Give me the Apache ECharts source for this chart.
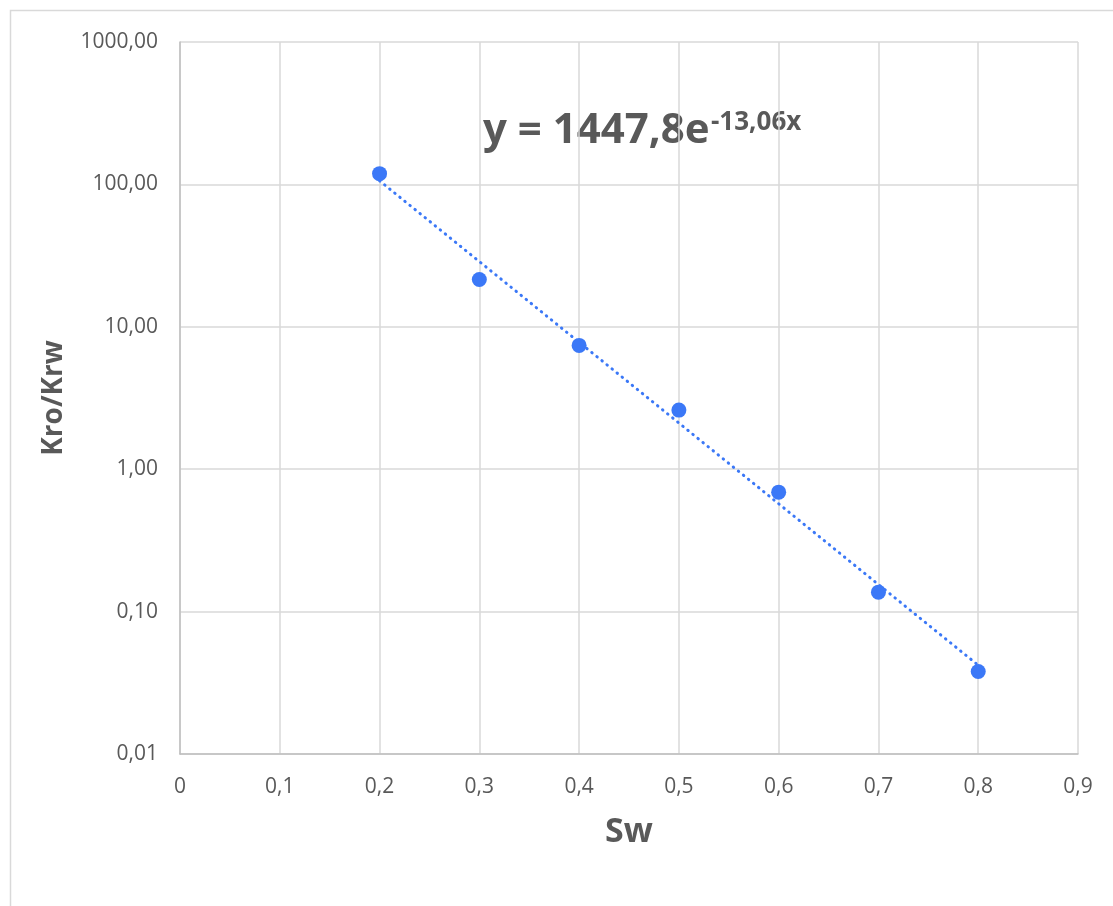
<!DOCTYPE html>
<html>
<head>
<meta charset="utf-8">
<script src="https://cdn.jsdelivr.net/npm/echarts@6/dist/echarts.min.js"></script>
<style>
  html, body { margin: 0; padding: 0; background: #fff; }
  #chart { width: 1113px; height: 906px; }
</style>
</head>
<body>
<div id="chart"></div>
<script>
// measured points (Sw vs Kro/Krw)
const sw = [0.2, 0.3, 0.4, 0.5, 0.6, 0.7, 0.8]
const kroKrw = [119, 21.5, 7.4, 2.6, 0.69, 0.137, 0.038]

// exponential trendline, end points
const trendSw = [0.2, 0.8]
const trendVal = [106, 0.042]

const eqMain = 'y = 1447,8e'
const eqExp = '-13,06x'

const textColor = '#595959'
const gridColor = '#d9d9d9'
const axisColor = '#bfbfbf'
const blue = '#3b78f7'
const font = 'Open Sans'

const chart = echarts.init(document.getElementById('chart'))

const option = {
  animation: false,
  textStyle: { fontFamily: font },
  grid: {
    left: 180,
    right: 35,
    top: 42,
    bottom: 152
  },
  xAxis: {
    type: 'value',
    min: 0,
    max: 0.9,
    interval: 0.1,
    name: 'Sw',
    nameLocation: 'middle',
    nameGap: 61,
    nameTextStyle: { fontSize: 34, fontWeight: 'bold', color: textColor, fontFamily: font },
    axisLine: { show: true, lineStyle: { color: axisColor, width: 1.5 } },
    axisTick: { show: false },
    axisLabel: {
      color: textColor,
      fontSize: 21,
      margin: 23,
      formatter: v => String(Math.round(v * 10) / 10).replace('.', ',')
    },
    splitLine: { show: true, lineStyle: { color: gridColor, width: 1.5 } }
  },
  yAxis: {
    type: 'log',
    logBase: 10,
    min: 0.01,
    max: 1000,
    name: 'Kro/Krw',
    nameLocation: 'middle',
    nameRotate: 90,
    nameGap: 112,
    nameTextStyle: { fontSize: 28, fontWeight: 'bold', color: textColor, fontFamily: font },
    axisLine: { show: true, lineStyle: { color: axisColor, width: 1.5 } },
    axisTick: { show: false },
    axisLabel: {
      color: textColor,
      fontSize: 21,
      margin: 22,
      formatter: v => Number(v).toFixed(2).replace('.', ',')
    },
    splitLine: { show: true, lineStyle: { color: gridColor, width: 1.5 } }
  },
  series: [
    {
      name: 'Trend',
      type: 'line',
      data: trendSw.map((x, i) => [x, trendVal[i]]),
      showSymbol: false,
      symbol: 'none',
      lineStyle: { color: blue, width: 3, type: [0.5, 6], cap: 'round' },
      z: 2
    },
    {
      name: 'Kro/Krw',
      type: 'scatter',
      data: sw.map((x, i) => [x, kroKrw[i]]),
      symbol: 'circle',
      symbolSize: 15,
      itemStyle: { color: blue, opacity: 1 },
      z: 3
    }
  ],
  graphic: [
    {
      type: 'rect',
      left: 8,
      top: 8,
      shape: { width: 1200, height: 1000 },
      style: { fill: 'none', stroke: gridColor, lineWidth: 1.5 },
      silent: true
    },
    {
      type: 'text',
      left: 483,
      top: 110,
      style: { text: eqMain, font: 'bold 42px "Open Sans"', fill: textColor }
    },
    {
      type: 'text',
      left: 711,
      top: 110,
      style: { text: eqExp, font: 'bold 26px "Open Sans"', fill: textColor }
    }
  ]
}

chart.setOption(option)
</script>
</body>
</html>
